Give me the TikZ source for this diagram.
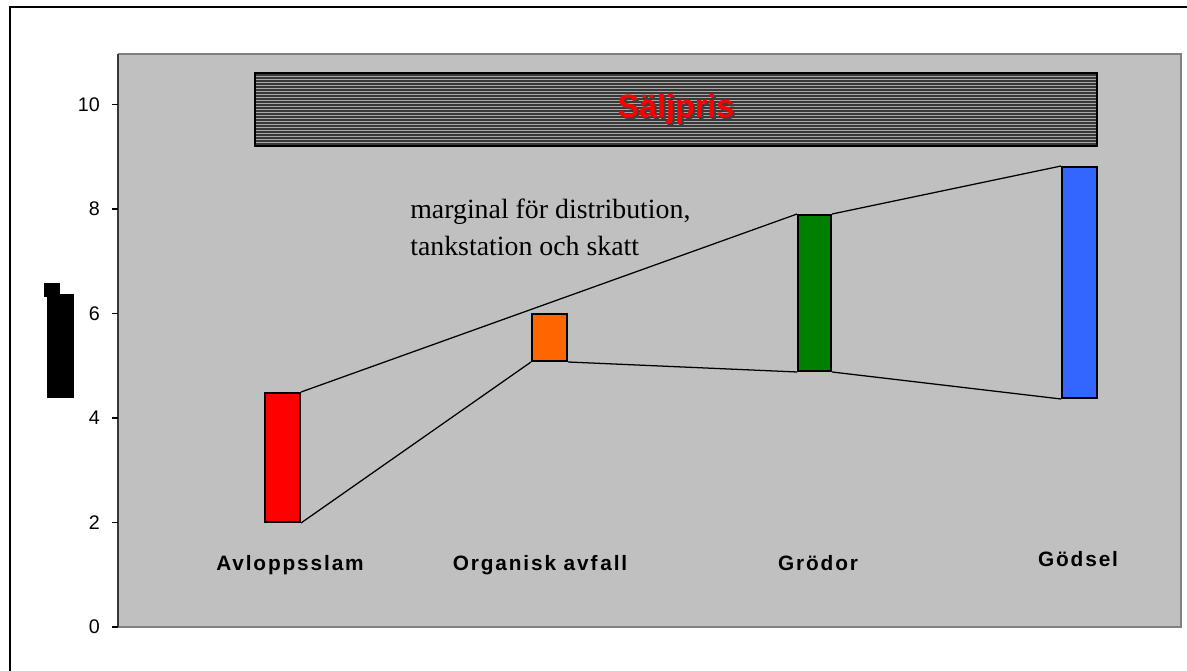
\documentclass[tikz,border=0pt]{standalone}
\usepackage{fontspec}
\setmainfont{Liberation Serif}
\newfontfamily\arialfont{Liberation Sans}
\newfontfamily\catfont[LetterSpace=9]{Liberation Sans}
\usetikzlibrary{positioning, fit}

\definecolor{plotgray}{HTML}{C0C0C0}
\definecolor{framegray}{HTML}{808080}
\definecolor{stripelight}{HTML}{A8A8A8}
\definecolor{stripedark}{HTML}{383838}
\definecolor{barorange}{HTML}{FF6600}
\definecolor{bargreen}{HTML}{008000}
\definecolor{barblue}{HTML}{3366FF}

\begin{document}
\begin{tikzpicture}[x=0.025cm, y=-0.025cm,
    bar/.style={draw, line width=1.4pt, inner sep=0pt},
    link/.style={line width=0.9pt},
    cat/.style={font=\catfont\bfseries\fontsize{14.8}{17}\selectfont},
    ticklabel/.style={font=\arialfont\fontsize{14}{16}\selectfont, anchor=east, inner sep=0pt}]
  \useasboundingbox (0,0) rectangle (1187,670);
  \draw[line width=0.9pt] (10,7) rectangle (1210,700);

  % plot area
  \fill[plotgray] (118,54) rectangle (1181,627);
  \draw[framegray, line width=1.5pt] (118,54) -- (1181,54) -- (1181,627) -- (118,627);
  \draw[stripedark, line width=1.2pt] (118,54) -- (118,627);

  % y axis
  \foreach \v in {0,2,...,10} {
    \draw[line width=0.8pt] (112,{627-52.25*\v}) -- (118,{627-52.25*\v});
    \node[ticklabel] (t\v) at (100,{627-52.25*\v}) {\v};
  }
  \fill (44,283) rectangle (60,297);
  \fill (47,294) rectangle (74,398);

  % banner
  \node[fit={(255,73) (1097,146)}, inner sep=0pt, fill=stripelight] (banner) {};
  \foreach \k in {0,...,23}
    \draw[stripedark, line width=0.8pt] (256,{75+3*\k}) -- (1096,{75+3*\k});
  \draw[line width=1.4pt] (banner.north west) rectangle (banner.south east);
  \node[font=\arialfont\bfseries\fontsize{23}{26}\selectfont, text=black!75]
    at ([shift={(2,2)}]banner.center) {Säljpris};
  \node[font=\arialfont\bfseries\fontsize{23}{26}\selectfont, text=red]
    (title) at (banner.center) {Säljpris};

  % bars
  \node[bar, fill=red, fit={(265,393) (300,522)}] (slam) {};
  \node[bar, fill=barorange, fit={(532,314) (567,361)}] (avfall) {};
  \node[bar, fill=bargreen, fit={(798,215) (831,371)}] (grodor) {};
  \node[bar, fill=barblue, fit={(1062,167) (1097,398)}] (godsel) {};

  \draw[link] (slam.north east) -- (grodor.north west);
  \draw[link] (grodor.north east) -- (godsel.north west);
  \draw[link] (slam.south east) -- (avfall.south west);
  \draw[link] (avfall.south east) -- (grodor.south west);
  \draw[link] (grodor.south east) -- (godsel.south west);

  \node[anchor=north west, align=left, inner sep=0pt,
    font=\fontsize{19.8}{26}\selectfont] (note) at (410,199)
    {marginal för distribution,\\tankstation och skatt};

  % categories
  \node[cat] (lslam) at (290,565) {Avloppsslam};
  \node[cat] (lavfall) at (540,565) {Organisk avf\kern2pt all};
  \node[cat] (lgrodor) at (818,563) {Grödor};
  \node[cat] (lgodsel) at (1078,559) {Gödsel};
\end{tikzpicture}
\end{document}
